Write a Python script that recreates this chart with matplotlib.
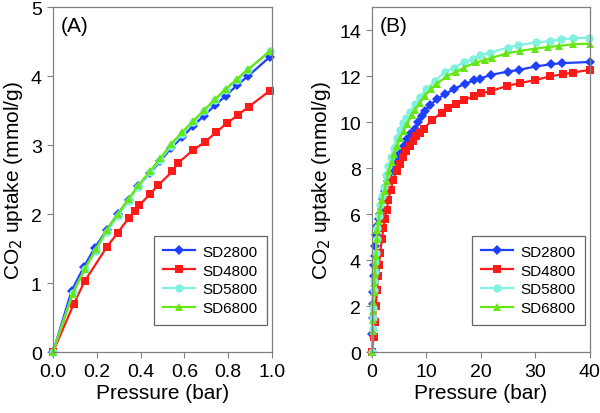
import matplotlib
matplotlib.use("Agg")
import matplotlib.pyplot as plt

plt.rcParams['font.family'] = ['Liberation Sans', 'DejaVu Sans']

series_names = ["SD2800", "SD4800", "SD5800", "SD6800"]
colors = ["#1f3fff", "#ff1a1a", "#80f0e0", "#66e615"]
markers = ["D", "s", "o", "^"]

# panel A: low pressure (0-1 bar)
a_x_2800 = [0, 0.085, 0.14, 0.19, 0.245, 0.295, 0.345, 0.39, 0.445, 0.49, 0.54, 0.59, 0.64, 0.69, 0.74, 0.79, 0.84, 0.89, 0.99]
a_y_2800 = [0, 0.89, 1.23, 1.51, 1.77, 2.00, 2.21, 2.41, 2.60, 2.77, 2.96, 3.12, 3.28, 3.43, 3.58, 3.72, 3.87, 4.00, 4.28]
a_x_4800 = [0, 0.095, 0.145, 0.245, 0.295, 0.345, 0.375, 0.395, 0.445, 0.48, 0.545, 0.57, 0.64, 0.695, 0.745, 0.795, 0.845, 0.895, 0.99]
a_y_4800 = [0, 0.70, 1.03, 1.52, 1.73, 1.94, 2.05, 2.13, 2.30, 2.42, 2.62, 2.74, 2.93, 3.05, 3.19, 3.32, 3.44, 3.56, 3.79]
a_x_5800 = [0, 0.09, 0.145, 0.195, 0.245, 0.295, 0.345, 0.39, 0.445, 0.49, 0.54, 0.59, 0.64, 0.69, 0.74, 0.79, 0.84, 0.89, 0.99]
a_y_5800 = [0, 0.86, 1.20, 1.47, 1.74, 1.97, 2.19, 2.40, 2.61, 2.79, 2.99, 3.16, 3.33, 3.49, 3.65, 3.80, 3.95, 4.09, 4.37]
a_x_6800 = [0, 0.09, 0.145, 0.195, 0.245, 0.295, 0.345, 0.39, 0.445, 0.49, 0.54, 0.59, 0.64, 0.69, 0.74, 0.79, 0.84, 0.89, 0.99]
a_y_6800 = [0, 0.84, 1.21, 1.49, 1.77, 2.00, 2.22, 2.42, 2.63, 2.81, 3.02, 3.19, 3.35, 3.51, 3.67, 3.82, 3.96, 4.10, 4.36]

# panel B: high pressure (0-40 bar)
b_x_2800 = [0, 0.05, 0.1, 0.15, 0.2, 0.3, 0.4, 0.5, 0.6, 0.8, 1.0, 1.2, 1.5, 1.8, 2.1, 2.4, 2.9, 3.3, 4.1, 4.6, 5.2, 5.8, 6.4, 7.0, 7.9, 8.5, 9.1, 9.7, 10.7, 11.9, 13.4, 15.1, 17.0, 18.8, 19.9, 21.8, 24.9, 27.0, 30.2, 32.8, 34.9, 40]
b_y_2800 = [0, 0.8, 1.5, 2.1, 2.6, 3.3, 3.8, 4.2, 4.6, 5.1, 5.5, 5.8, 6.0, 6.22, 6.65, 7.01, 7.45, 7.81, 8.1, 8.39, 8.68, 8.95, 9.26, 9.48, 9.7, 9.99, 10.28, 10.49, 10.75, 11.0, 11.22, 11.45, 11.67, 11.82, 11.9, 12.06, 12.2, 12.28, 12.43, 12.52, 12.57, 12.62]
b_x_4800 = [0, 0.3, 0.5, 0.7, 0.9, 1.1, 1.3, 1.5, 1.8, 2.1, 2.4, 2.7, 3.0, 3.4, 3.9, 4.5, 5.1, 5.7, 6.3, 6.9, 7.5, 8.1, 8.8, 9.5, 11.1, 12.8, 13.9, 15.5, 16.9, 18.8, 20.1, 21.9, 24.8, 27.1, 29.9, 32.6, 35.1, 36.9, 40]
b_y_4800 = [0, 0.64, 1.3, 2.0, 2.7, 3.3, 3.8, 4.3, 4.9, 5.4, 5.8, 6.2, 6.6, 7.05, 7.5, 7.9, 8.2, 8.5, 8.75, 8.97, 9.19, 9.38, 9.55, 9.72, 10.1, 10.42, 10.64, 10.81, 10.97, 11.14, 11.25, 11.36, 11.58, 11.7, 11.83, 11.99, 12.09, 12.16, 12.28]
b_x_5800 = [0, 0.1, 0.15, 0.2, 0.3, 0.4, 0.5, 0.6, 0.7, 0.85, 1.0, 1.2, 1.5, 1.8, 2.2, 2.6, 3.0, 3.5, 4.0, 4.5, 5.1, 5.7, 6.3, 7.0, 7.9, 8.8, 10.0, 11.6, 13.4, 15.1, 16.9, 18.6, 19.8, 21.7, 25.0, 26.8, 30.2, 32.7, 34.8, 36.9, 39.8]
b_y_5800 = [0, 1.0, 1.5, 1.9, 2.7, 3.1, 3.5, 3.9, 4.3, 4.9, 5.4, 5.9, 6.4, 6.8, 7.2, 7.7, 8.1, 8.5, 8.9, 9.3, 9.65, 9.95, 10.2, 10.45, 10.8, 11.1, 11.43, 11.8, 12.19, 12.38, 12.6, 12.77, 12.91, 13.03, 13.25, 13.35, 13.47, 13.53, 13.6, 13.65, 13.68]
b_x_6800 = [0, 0.1, 0.15, 0.2, 0.25, 0.3, 0.4, 0.5, 0.6, 0.7, 0.85, 1.0, 1.2, 1.5, 1.8, 2.3, 2.7, 3.1, 3.6, 4.1, 4.6, 5.2, 5.8, 6.4, 7.3, 7.9, 8.8, 9.7, 10.8, 12.0, 13.7, 15.5, 16.9, 19.1, 20.7, 22.1, 24.7, 27.1, 29.9, 32.3, 34.4, 36.9, 40]
b_y_6800 = [0, 0.9, 1.4, 1.8, 2.2, 2.6, 3.0, 3.4, 3.8, 4.2, 4.9, 5.3, 5.7, 6.2, 6.6, 7.0, 7.45, 7.9, 8.25, 8.6, 8.97, 9.33, 9.62, 9.91, 10.3, 10.55, 10.85, 11.15, 11.45, 11.68, 12.0, 12.19, 12.38, 12.6, 12.7, 12.81, 12.99, 13.1, 13.2, 13.27, 13.32, 13.39, 13.42]

a_xticks = [0.0, 0.2, 0.4, 0.6, 0.8, 1.0]
a_yticks = [0, 1, 2, 3, 4, 5]
b_xticks = [0, 10, 20, 30, 40]
b_yticks = [0, 2, 4, 6, 8, 10, 12, 14]

data_a = [(a_x_2800, a_y_2800), (a_x_4800, a_y_4800), (a_x_5800, a_y_5800), (a_x_6800, a_y_6800)]
data_b = [(b_x_2800, b_y_2800), (b_x_4800, b_y_4800), (b_x_5800, b_y_5800), (b_x_6800, b_y_6800)]

fig = plt.figure(figsize=(6, 4.14), dpi=100)
ax_a = fig.add_axes([0.0883, 0.147, 0.365, 0.833])
ax_b = fig.add_axes([0.62, 0.147, 0.363, 0.833])


def draw_panel(ax, data, xlim, ylim, xticks, yticks, xfmt, tag):
    for (xs, ys), name, c, m in zip(data, series_names, colors, markers):
        ms = 6 if m != "D" else 5.5
        ax.plot(xs, ys, color=c, marker=m, markersize=ms, linewidth=1.6,
                markeredgewidth=0, label=name, clip_on=False)
    ax.set_xlim(*xlim)
    ax.set_ylim(*ylim)
    ax.set_xticks(xticks)
    ax.set_xticklabels([xfmt.format(t) for t in xticks])
    ax.set_yticks(yticks)
    ax.tick_params(direction="out", length=4, width=0.8, color="#808080",
                   labelsize=14, top=False, right=False, pad=4)
    for sp in ax.spines.values():
        sp.set_color("#808080")
        sp.set_linewidth(0.9)
    ax.set_xlabel("Pressure (bar)", fontsize=15, labelpad=2)
    ax.set_ylabel("CO$_2$ uptake (mmol/g)", fontsize=15, labelpad=4)
    ax.text(0.035, 0.975, tag, transform=ax.transAxes, fontsize=15,
            va="top", ha="left")
    leg = ax.legend(loc="lower right", bbox_to_anchor=(0.977, 0.08),
                    fontsize=11, frameon=True, fancybox=False,
                    handlelength=2.1, borderpad=0.6, labelspacing=0.32,
                    handletextpad=0.5, borderaxespad=0)
    leg.get_frame().set_edgecolor("#404040")
    leg.get_frame().set_linewidth(0.9)


draw_panel(ax_a, data_a, (0, 1), (0, 5), a_xticks, a_yticks, "{:.1f}", "(A)")
draw_panel(ax_b, data_b, (0, 40), (0, 15), b_xticks, b_yticks, "{:.0f}", "(B)")

fig.savefig("out.png", dpi=100)
